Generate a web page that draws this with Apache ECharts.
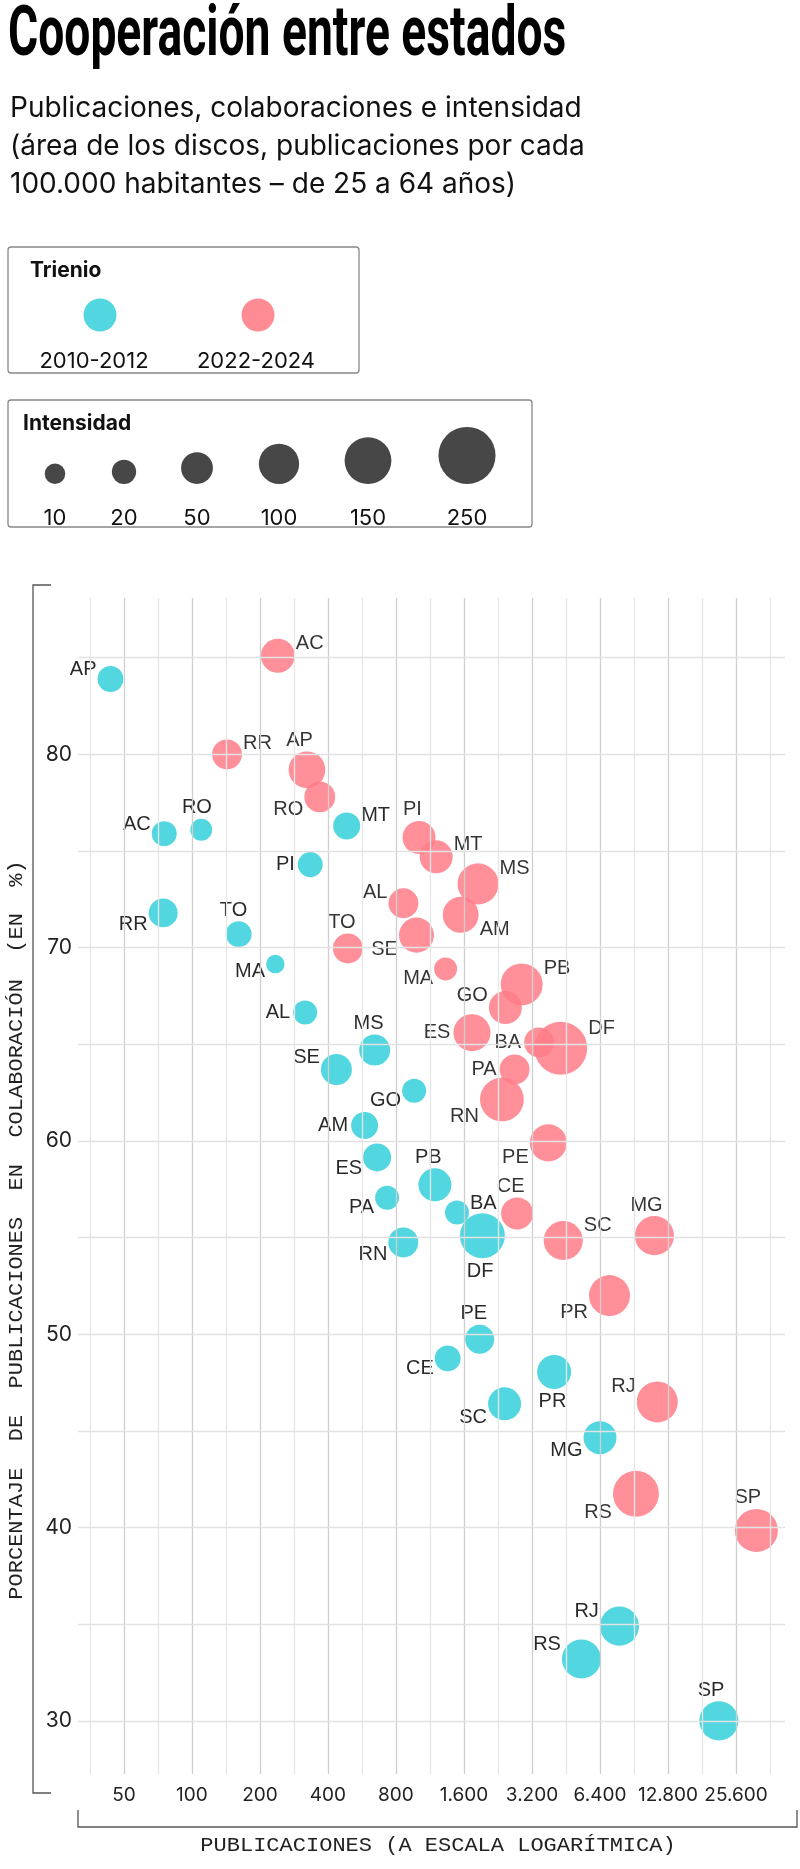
<!DOCTYPE html>
<html>
<head>
<meta charset="utf-8">
<script src="https://cdn.jsdelivr.net/npm/echarts@6/dist/echarts.min.js"></script>
<style>
  html, body { margin: 0; padding: 0; background: #fff; }
  #chart { width: 800px; height: 1869px; }
</style>
</head>
<body>
<div id="chart"></div>
<script>
// 2010-2012
const names2010 = ['AP','AC','RO','MT','PI','RR','TO','MA','AL','MS','SE','GO','AM','ES','PA','RN','PB','BA','DF','PE','CE','SC','PR','MG','RJ','RS','SP'];
const pub2010 = [43.6,75.4,110,484,334,74.6,161,234,317,644,436,963,581,660,731,862,1190,1490,1930,1877,1355,2420,4010,6400,7800,5300,21500];
const pct2010 = [83.9,75.9,76.1,76.3,74.3,71.8,70.7,69.15,66.65,64.7,63.7,62.6,60.8,59.15,57.06,54.75,57.73,56.3,55.1,49.74,48.75,46.4,48.05,44.65,34.9,33.2,30.0];
const int2010 = [25,22,13,29,22,37,25,6,19,46,46,19,29,33,19,41,56,19,135,37,25,56,61,56,92,92,92];
const pos2010 = ['tl','tl','t','tr','l','bl','t','bl','l','t','tl','bl','l','bl','bl','bl','t','tr','b','t','bl','bl','b','bl','tl','tl','t'];

// 2022-2024
const names2022 = ['AC','RR','AP','RO','MT','PI','TO','AL','MS','AM','SE','MA','PB','GO','ES','BA','DF','PA','RN','PE','CE','SC','MG','PR','RJ','RS','SP'];
const pub2022 = [240,143,323,368,1205,1012,490,863,1847,1547,986,1327,2880,2440,1736,3440,4290,2680,2355,3780,2750,4400,11140,7050,11470,9230,31500];
const pct2022 = [85.1,80.0,79.2,77.8,74.7,75.7,69.96,72.3,73.3,71.7,70.65,68.9,68.1,66.9,65.6,65.1,64.8,63.7,62.15,59.9,56.25,54.85,55.1,52.0,46.5,41.75,39.85];
const int2022 = [61,41,77,45,56,56,41,41,105,72,67,16,112,56,79,41,207,41,126,79,51,92,92,105,105,143,120];
const pos2022 = ['tr','tr','t','bl','tr','t','t','tl','tr','br','bl','bl','tr','tl','l','l','tr','l','bl','bl','t','tr','t','bl','tl','bl','t'];

// ticks
const xTickValues = [50,100,200,400,800,1600,3200,6400,12800,25600];
const yTickValues = [30,40,50,60,70,80];
const legendIntensity = [10,20,50,100,150,250];
const legendYears = ['2010-2012','2022-2024'];

const CYAN = '#3fd2db';
const RED = '#ff7d88';

const toX = v => 2 * Math.log2(v / 50); // half-doubling units from 50
const size = i => 11.4 + 2.89 * Math.sqrt(i);
const fmt = n => String(n).replace(/\B(?=(\d{3})+(?!\d))/g, '.');

function labelFor(code, r) {
  const base = { show: true, color: '#111', fontSize: 20, fontFamily: 'Liberation Sans', distance: 3 };
  switch (code) {
    case 't': return { ...base, position: 'top', offset: [-r * 0.4, 2] };
    case 'b': return { ...base, position: 'bottom', offset: [-r * 0.1, 0] };
    case 'l': return { ...base, position: 'left' };
    case 'r': return { ...base, position: 'right' };
    case 'tl': return { ...base, position: 'left', offset: [2, -r * 0.75] };
    case 'tr': return { ...base, position: 'right', offset: [-2, -r * 0.75] };
    case 'bl': return { ...base, position: 'left', offset: [2, r * 0.8] };
    case 'br': return { ...base, position: 'right', offset: [-2, r * 0.8] };
  }
}

function build(names, pub, pct, inten, pos) {
  return names.map((n, i) => ({
    name: n,
    value: [toX(pub[i]), pct[i], inten[i]],
    label: labelFor(pos[i], size(inten[i]) / 2)
  }));
}

const xMin = -1.35, xMax = 19.44, yMin = 27.25, yMax = 88.09;
const vLines = [];
for (let k = -1; k <= 19; k++) vLines.push({ xAxis: k, lineStyle: { color: k % 2 === 0 ? '#cfcfcf' : '#e6e6e6', width: 1.3, type: 'solid' } });
const hLines = [];
for (let v = 30; v <= 85; v += 5) hLines.push({ yAxis: v, lineStyle: { color: '#e2e2e2', width: 1.3, type: 'solid' } });

const chart = echarts.init(document.getElementById('chart'), null, { renderer: 'canvas' });

const graphics = [
  { type: 'text', left: 8, top: 2, scaleX: 0.66, style: { text: 'Cooperación entre estados', font: 'bold 70px "Liberation Sans Narrow", "Roboto"', fill: '#000' } },
  { type: 'text', left: 10, top: 90, style: { text: 'Publicaciones, colaboraciones e intensidad\n(área de los discos, publicaciones por cada\n100.000 habitantes – de 25 a 64 años)', font: '28px "Inter"', lineHeight: 38, fill: '#111' } },
  // legend box 1
  { type: 'rect', shape: { x: 8, y: 247, width: 351, height: 126, r: 3 }, style: { fill: 'none', stroke: '#888', lineWidth: 1.3 } },
  { type: 'text', x: 30, y: 260, style: { text: 'Trienio', font: 'bold 21px "Inter"', fill: '#111' } },
  { type: 'circle', shape: { cx: 100, cy: 315, r: 16.5 }, style: { fill: '#52d6df' } },
  { type: 'circle', shape: { cx: 258, cy: 315, r: 16.5 }, style: { fill: '#ff8c94' } },
  { type: 'text', x: 94, y: 350, style: { text: legendYears[0], font: '22px "Inter"', fill: '#111', align: 'center', verticalAlign: 'alphabetic' } },
  { type: 'text', x: 256, y: 350, style: { text: legendYears[1], font: '22px "Inter"', fill: '#111', align: 'center', verticalAlign: 'alphabetic' } },
  // legend box 2
  { type: 'rect', shape: { x: 8, y: 400, width: 524, height: 127, r: 3 }, style: { fill: 'none', stroke: '#888', lineWidth: 1.3 } },
  { type: 'text', x: 23, y: 413, style: { text: 'Intensidad', font: 'bold 21px "Inter"', fill: '#111' } },
  // brackets
  { type: 'polyline', shape: { points: [[51, 585], [33, 585], [33, 1793], [51, 1793]] }, style: { stroke: '#555', lineWidth: 1.3, fill: 'none' } },
  { type: 'polyline', shape: { points: [[78, 1810], [78, 1827], [797, 1827], [797, 1810]] }, style: { stroke: '#555', lineWidth: 1.3, fill: 'none' } },
  // axis titles
  { type: 'text', x: 17, y: 1230, rotation: Math.PI / 2, scaleX: 1.1, style: { text: 'PORCENTAJE  DE  PUBLICACIONES  EN  COLABORACIÓN  (EN  %)', font: '20px "Liberation Mono"', fill: '#222', align: 'center', verticalAlign: 'middle' } },
  { type: 'text', x: 438, y: 1846, scaleX: 1.1, style: { text: 'PUBLICACIONES (A ESCALA LOGARÍTMICA)', font: '20px "Liberation Mono"', fill: '#222', align: 'center', verticalAlign: 'middle' } }
];
const legendCx = [55, 124, 197, 279, 368, 467];
legendIntensity.forEach((v, i) => {
  const r = size(v) / 2;
  graphics.push({ type: 'circle', shape: { cx: legendCx[i], cy: 484 - r, r: r }, style: { fill: '#474747' } });
  graphics.push({ type: 'text', x: legendCx[i], y: 507, style: { text: String(v), font: '22px "Inter"', fill: '#111', align: 'center', verticalAlign: 'alphabetic' } });
});

chart.setOption({
  animation: false,
  grid: { left: 78, right: 15, top: 598, bottom: 95 },
  graphic: graphics,
  xAxis: {
    type: 'value', min: xMin, max: xMax,
    axisLine: { show: false }, axisTick: { show: false }, splitLine: { show: false },
    axisLabel: {
      customValues: xTickValues.map(toX),
      formatter: v => fmt(Math.round(50 * Math.pow(2, v / 2))),
      color: '#222', fontSize: 19, fontFamily: 'Inter', margin: 12
    }
  },
  yAxis: {
    type: 'value', min: yMin, max: yMax,
    axisLine: { show: false }, axisTick: { show: false }, splitLine: { show: false },
    axisLabel: { customValues: yTickValues, color: '#222', fontSize: 21, fontFamily: 'Inter', margin: 6 }
  },
  series: [
    {
      type: 'scatter', data: [], silent: true,
      markLine: { silent: true, symbol: 'none', label: { show: false }, data: vLines.concat(hLines), animation: false }
    },
    {
      type: 'scatter', name: legendYears[0],
      data: build(names2010, pub2010, pct2010, int2010, pos2010),
      symbolSize: d => size(d[2]),
      itemStyle: { color: CYAN, opacity: 0.9 },
      label: { formatter: p => p.name }
    },
    {
      type: 'scatter', name: legendYears[1],
      data: build(names2022, pub2022, pct2022, int2022, pos2022),
      symbolSize: d => size(d[2]),
      itemStyle: { color: RED, opacity: 0.85 },
      label: { formatter: p => p.name }
    }
  ]
});
</script>
</body>
</html>
